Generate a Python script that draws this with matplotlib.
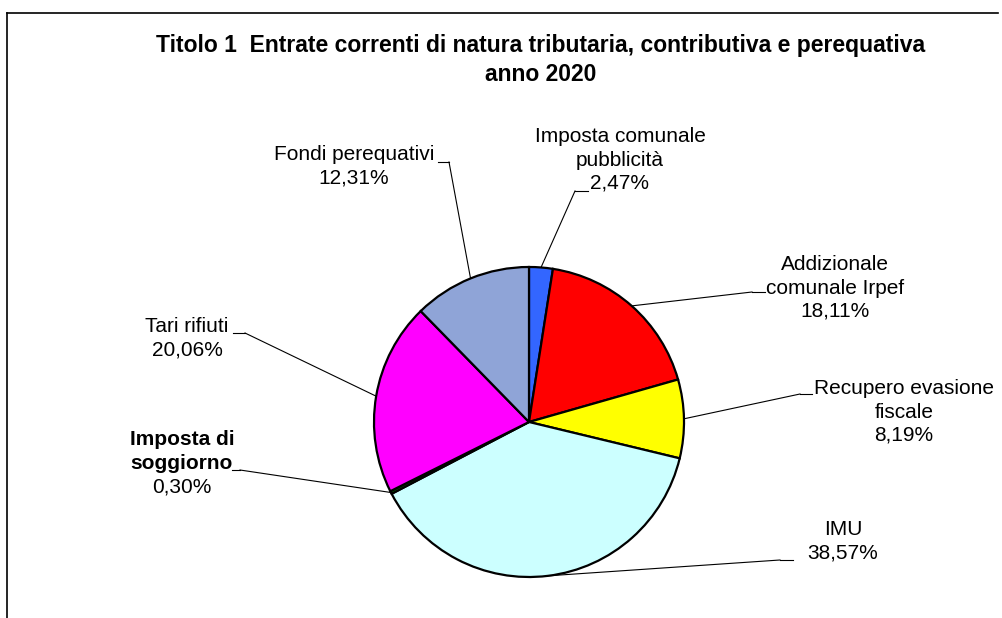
import numpy as np
import matplotlib
matplotlib.use('Agg')
import matplotlib.pyplot as plt

# Dati del grafico (percentuali)
categorie = ['Imposta comunale\npubblicità', 'Addizionale\ncomunale Irpef',
             'Recupero evasione\nfiscale', 'IMU', 'Imposta di\nsoggiorno',
             'Tari rifiuti', 'Fondi perequativi']
valori = [2.47, 18.11, 8.19, 38.57, 0.30, 20.06, 12.31]
etichette_pct = ['2,47%', '18,11%', '8,19%', '38,57%', '0,30%', '20,06%', '12,31%']
colori = ['#3366FF', '#FF0000', '#FFFF00', '#CCFFFF', '#006600', '#FF00FF', '#8FA4D7']

titolo = 'Titolo 1  Entrate correnti di natura tributaria, contributiva e perequativa\nanno 2020'

W, H = 1003, 618

# posizione delle etichette in pixel: centro testo (x, y), trattino (x0, x1, y), punto di attacco
layout = [
    ((620, 160), (575, 588, 191), 575),
    ((835, 288), (752, 765, 292), 752),
    ((904, 412), (800, 812, 394), 800),
    ((843, 541), (780, 793, 560), 780),
    ((182, 463), (232, 240, 470), 240),
    ((187, 338), (233, 245, 333), 245),
    ((354, 166), (438, 449, 162), 449),
]

plt.rcParams['font.family'] = ['Liberation Sans', 'DejaVu Sans']

fig = plt.figure(figsize=(W / 100, H / 100), dpi=100)
ax = fig.add_axes([0, 0, 1, 1])

cx, cy, r = 529, H - 422, 155
wedges, _ = ax.pie(valori, colors=colori, startangle=90, counterclock=False,
                   center=(cx, cy), radius=r, frame=True,
                   wedgeprops=dict(edgecolor='black', linewidth=1.6))

fs = 15
for i, w in enumerate(wedges):
    ang = np.deg2rad((w.theta1 + w.theta2) / 2)
    px = cx + r * np.cos(ang)
    py = cy + r * np.sin(ang)
    (tx, ty), (sx0, sx1, sy), attacco = layout[i]
    ax.plot([sx0, sx1], [H - sy, H - sy], color='black', lw=0.8)
    ax.plot([px, attacco], [py, H - sy], color='black', lw=0.8)
    if i == 4:
        # etichetta in grassetto per l'imposta di soggiorno
        ax.text(tx, H - ty + 11.5, categorie[i], ha='center', va='center',
                fontsize=fs, fontweight='bold', linespacing=1.27)
        ax.text(tx, H - ty - 24, etichette_pct[i], ha='center', va='center',
                fontsize=fs)
    else:
        ax.text(tx, H - ty, categorie[i] + '\n' + etichette_pct[i],
                ha='center', va='center', fontsize=fs, linespacing=1.27)

ax.text(541, H - 60, titolo, ha='center', va='center', fontsize=16.5,
        fontweight='bold', linespacing=1.3)

# cornice
ax.plot([7, 7], [0, H - 13], color='black', lw=1.2)
ax.plot([7, 998], [H - 13, H - 13], color='black', lw=1.2)

ax.set_xlim(0, W)
ax.set_ylim(0, H)
ax.set_aspect('auto')
ax.axis('off')

fig.savefig('out.png', dpi=100)
